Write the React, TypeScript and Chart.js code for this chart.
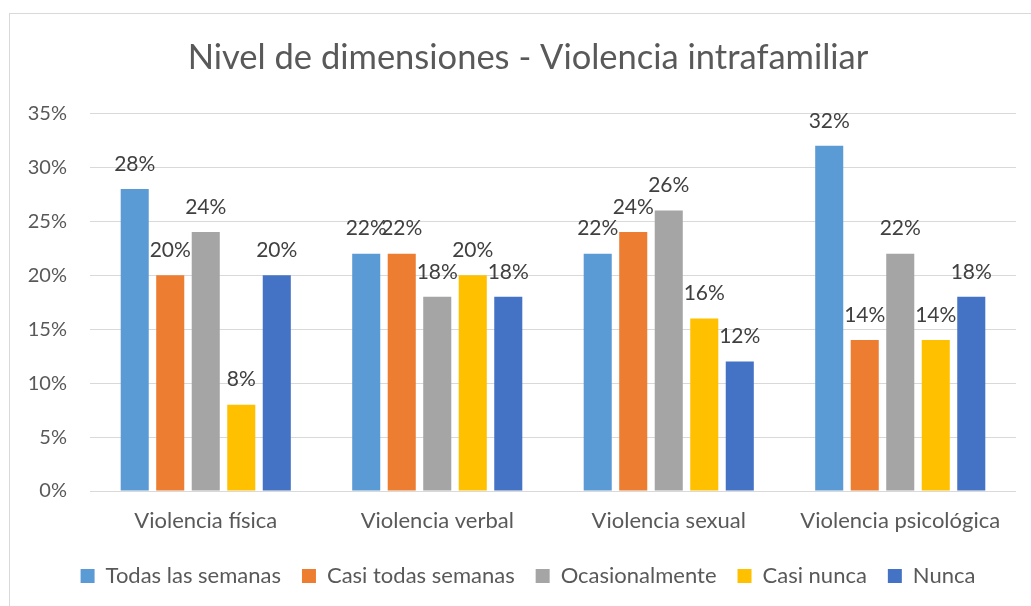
import React, { useEffect, useRef } from "react";
import { Chart, registerables } from "chart.js";

Chart.register(...registerables);

const categories = ["Violencia física", "Violencia verbal", "Violencia sexual", "Violencia psicológica"];
const seriesNames = ["Todas las semanas", "Casi todas semanas", "Ocasionalmente", "Casi nunca", "Nunca"];
const todasLasSemanas = [28, 22, 22, 32];
const casiTodasSemanas = [20, 22, 24, 14];
const ocasionalmente = [24, 18, 26, 22];
const casiNunca = [8, 20, 16, 14];
const nunca = [20, 18, 12, 18];
const seriesColors = ["#5B9BD5", "#ED7D31", "#A5A5A5", "#FFC000", "#4472C4"];
const yMax = 35;
const yStep = 5;
const titleText = "Nivel de dimensiones - Violencia intrafamiliar";

const FONT = "Lato, 'Liberation Sans', sans-serif";

const frameAndLabels = {
  id: "frameAndLabels",
  beforeDraw(chart: any) {
    const ctx = chart.ctx;
    ctx.save();
    ctx.fillStyle = "#FFFFFF";
    ctx.fillRect(0, 0, chart.width, chart.height);
    ctx.strokeStyle = "#D9D9D9";
    ctx.lineWidth = 1;
    ctx.strokeRect(9.5, 13.5, chart.width + 10, chart.height + 10);
    ctx.restore();
  },
  afterDatasetsDraw(chart: any) {
    const ctx = chart.ctx;
    ctx.save();
    ctx.font = `21px ${FONT}`;
    ctx.fillStyle = "#404040";
    ctx.textAlign = "center";
    ctx.textBaseline = "middle";
    chart.data.datasets.forEach((ds: any, i: number) => {
      const meta = chart.getDatasetMeta(i);
      meta.data.forEach((el: any, j: number) => {
        ctx.fillText(`${ds.data[j]}%`, el.x, el.y - 25);
      });
    });
    ctx.restore();
  },
};

export default function App() {
  const ref = useRef<HTMLCanvasElement | null>(null);
  useEffect(() => {
    if (!ref.current) return;
    const values = [todasLasSemanas, casiTodasSemanas, ocasionalmente, casiNunca, nunca];
    const chart = new Chart(ref.current, {
      type: "bar",
      data: {
        labels: categories,
        datasets: seriesNames.map((name, i) => ({
          label: name,
          data: values[i],
          backgroundColor: seriesColors[i],
          borderWidth: 0,
          categoryPercentage: 0.767,
          barPercentage: 0.79,
        })),
      },
      options: {
        animation: false,
        responsive: false,
        devicePixelRatio: 1,
        layout: { padding: { left: 40, right: 15, top: 0, bottom: 9 } },
        plugins: {
          title: {
            display: true,
            text: titleText,
            color: "#595959",
            font: { family: FONT, size: 34.5, weight: "normal", lineHeight: 1.2 },
            padding: { top: 37, bottom: 35 },
          },
          legend: {
            position: "bottom",
            labels: {
              color: "#595959",
              font: { family: FONT, size: 22 },
              boxWidth: 14,
              boxHeight: 14,
              padding: 21,
            },
          },
          tooltip: { enabled: false },
        },
        scales: {
          x: {
            grid: { display: false },
            border: { display: false },
            ticks: { color: "#595959", font: { family: FONT, size: 22 }, padding: 9 },
            afterFit: (scale: any) => {
              scale.height = 53;
            },
          },
          y: {
            min: 0,
            max: yMax,
            border: { display: false },
            grid: { color: "#D9D9D9", drawTicks: false },
            ticks: {
              stepSize: yStep,
              color: "#595959",
              font: { family: FONT, size: 20 },
              padding: 23,
              callback: (v: any) => `${v}%`,
            },
            afterFit: (scale: any) => {
              scale.width = 50;
              scale._computeLabelArea = () => undefined;
            },
          },
        },
      },
      plugins: [frameAndLabels],
    });
    return () => chart.destroy();
  }, []);
  return (
    <div style={{ position: "fixed", left: 0, top: 0, width: 1031, height: 606, background: "#fff" }}>
      <canvas ref={ref} width={1031} height={606} style={{ width: 1031, height: 606, display: "block" }} />
    </div>
  );
}
